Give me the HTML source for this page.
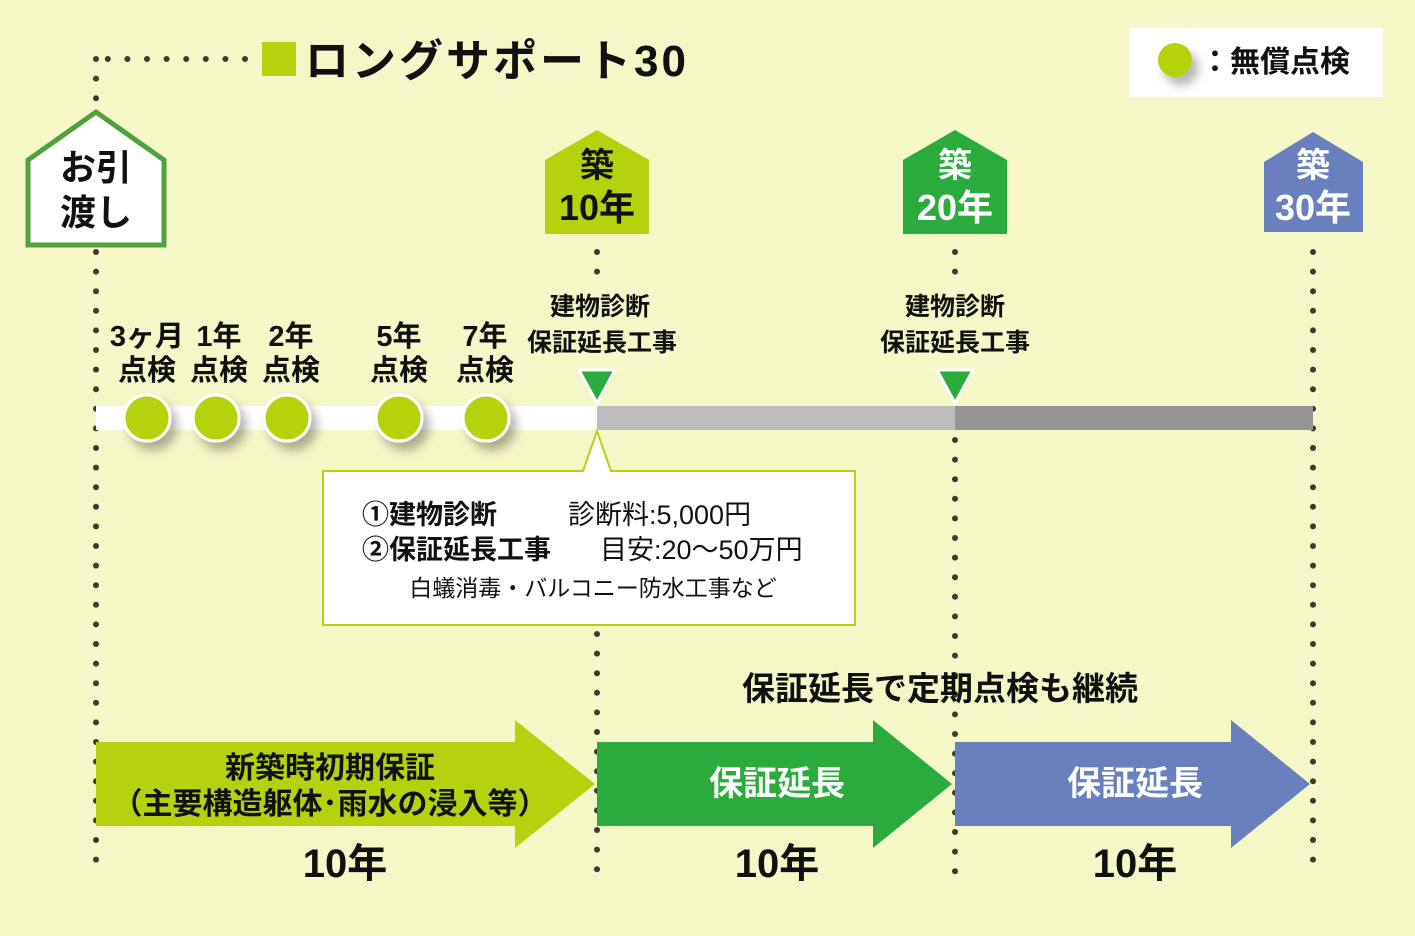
<!DOCTYPE html>
<html><head><meta charset="utf-8"><style>
html,body{margin:0;padding:0;background:#f6f7c6;}
svg{display:block;font-family:"Liberation Sans","Noto Sans CJK JP",sans-serif;}
.b{font-weight:bold;}
</style></head><body>
<svg width="1415" height="936" viewBox="0 0 1415 936" xmlns="http://www.w3.org/2000/svg">
<defs>
<filter id="sh" x="-50%" y="-50%" width="200%" height="200%"><feDropShadow dx="6" dy="8" stdDeviation="5" flood-color="#000" flood-opacity="0.3"/></filter>
</defs>
<rect width="1415" height="936" fill="#f6f7c6"/>
<g stroke="#3a3a30" stroke-width="6" stroke-linecap="round" stroke-dasharray="0 19.6" fill="none">
<line x1="245" y1="59" x2="96" y2="59"/>
<line x1="96" y1="59" x2="96" y2="100"/>
<line x1="96" y1="252" x2="96" y2="876"/>
<line x1="597" y1="252" x2="597" y2="290"/>
<line x1="597" y1="634" x2="597" y2="876"/>
<line x1="955" y1="252" x2="955" y2="290"/>
<line x1="955" y1="440" x2="955" y2="876"/>
<line x1="1313" y1="252" x2="1313" y2="876"/>
</g>
<!-- title -->
<rect x="262" y="42" width="34" height="34" fill="#b6d20f"/>
<text x="305" y="76" font-size="44" class="b" fill="#111" letter-spacing="3">ロングサポート30</text>
<!-- legend -->
<rect x="1130" y="28" width="253" height="69" fill="#fff"/>
<circle cx="1175" cy="60" r="17" fill="#b6d20f" filter="url(#sh)"/>
<text x="1200" y="72" font-size="30" class="b" fill="#111">：無償点検</text>
<!-- houses -->
<path d="M28 245 V160 L96 112 L164 160 V245 Z" fill="#fff" stroke="#4ea23c" stroke-width="5"/>
<text x="96" y="180" font-size="36" class="b" text-anchor="middle" fill="#111">お引</text>
<text x="96" y="225" font-size="36" class="b" text-anchor="middle" fill="#111">渡し</text>
<path d="M545 234 V160 L597 130 L649 160 V234 Z" fill="#b6d20f"/>
<text x="597" y="177" font-size="34" class="b" text-anchor="middle" fill="#111">築</text>
<text x="597" y="220" font-size="36" class="b" text-anchor="middle" fill="#111">10年</text>
<path d="M903 234 V160 L955 130 L1007 160 V234 Z" fill="#2aab3b"/>
<text x="955" y="177" font-size="34" class="b" text-anchor="middle" fill="#fff">築</text>
<text x="955" y="220" font-size="36" class="b" text-anchor="middle" fill="#fff">20年</text>
<path d="M1264 232 V162 L1313 132 L1363 162 V232 Z" fill="#6a7fbd"/>
<text x="1313" y="177" font-size="34" class="b" text-anchor="middle" fill="#fff">築</text>
<text x="1313" y="220" font-size="36" class="b" text-anchor="middle" fill="#fff">30年</text>
<!-- labels -->
<g font-size="29" class="b" fill="#111" text-anchor="middle">
<text x="147" y="346">3ヶ月</text><text x="147" y="380">点検</text>
<text x="219" y="346">1年</text><text x="219" y="380">点検</text>
<text x="291" y="346">2年</text><text x="291" y="380">点検</text>
<text x="399" y="346">5年</text><text x="399" y="380">点検</text>
<text x="485" y="346">7年</text><text x="485" y="380">点検</text>
</g>
<g font-size="25" class="b" fill="#111" text-anchor="middle">
<text x="600" y="315">建物診断</text><text x="602" y="351">保証延長工事</text>
<text x="955" y="315">建物診断</text><text x="955" y="351">保証延長工事</text>
</g>
<!-- timeline -->
<rect x="96" y="406" width="501" height="24" fill="#fff"/>
<rect x="597" y="406" width="358" height="24" fill="#bdbdbd"/>
<rect x="955" y="406" width="358" height="24" fill="#959595"/>
<g fill="#b6d20f" stroke="#fff" stroke-width="3" filter="url(#sh)">
<circle cx="147" cy="418" r="23"/><circle cx="216" cy="418" r="23"/><circle cx="287" cy="418" r="23"/>
<circle cx="399" cy="418" r="23"/><circle cx="486" cy="418" r="23"/>
</g>
<path d="M579 370 L615 370 L597 403 Z" fill="#2aab3b" stroke="#fff" stroke-width="3"/>
<path d="M937 370 L973 370 L955 403 Z" fill="#2aab3b" stroke="#fff" stroke-width="3"/>
<!-- callout -->
<path d="M323 471 H583 L597 431 L611 471 H855 V625 H323 Z" fill="#fff" stroke="#b6d20f" stroke-width="2"/>
<text x="362" y="524" font-size="27" fill="#111"><tspan class="b">①建物診断</tspan><tspan x="568">診断料:5,000円</tspan></text>
<text x="362" y="559" font-size="27" fill="#111"><tspan class="b">②保証延長工事</tspan><tspan x="600">目安:20～50万円</tspan></text>
<text x="593" y="596" font-size="23" fill="#111" text-anchor="middle">白蟻消毒・バルコニー防水工事など</text>
<text x="940" y="700" font-size="33" class="b" fill="#111" text-anchor="middle">保証延長で定期点検も継続</text>
<!-- arrows -->
<path d="M96 742 H515 V720 L595 784 L515 848 V826 H96 Z" fill="#b6d20f"/>
<path d="M597 742 H873 V720 L952 784 L873 848 V826 H597 Z" fill="#2aab3b"/>
<path d="M955 742 H1231 V720 L1310 784 L1231 848 V826 H955 Z" fill="#6a7fbd"/>
<text x="330" y="778" font-size="30" class="b" fill="#111" text-anchor="middle">新築時初期保証</text>
<text x="330" y="814" font-size="30" class="b" fill="#111" text-anchor="middle">（主要構造躯体･雨水の浸入等）</text>
<text x="777" y="795" font-size="34" class="b" fill="#fff" text-anchor="middle">保証延長</text>
<text x="1135" y="795" font-size="34" class="b" fill="#fff" text-anchor="middle">保証延長</text>
<g font-size="40" class="b" fill="#111" text-anchor="middle">
<text x="345" y="877">10年</text><text x="777" y="877">10年</text><text x="1135" y="877">10年</text>
</g>
</svg>
</body></html>
